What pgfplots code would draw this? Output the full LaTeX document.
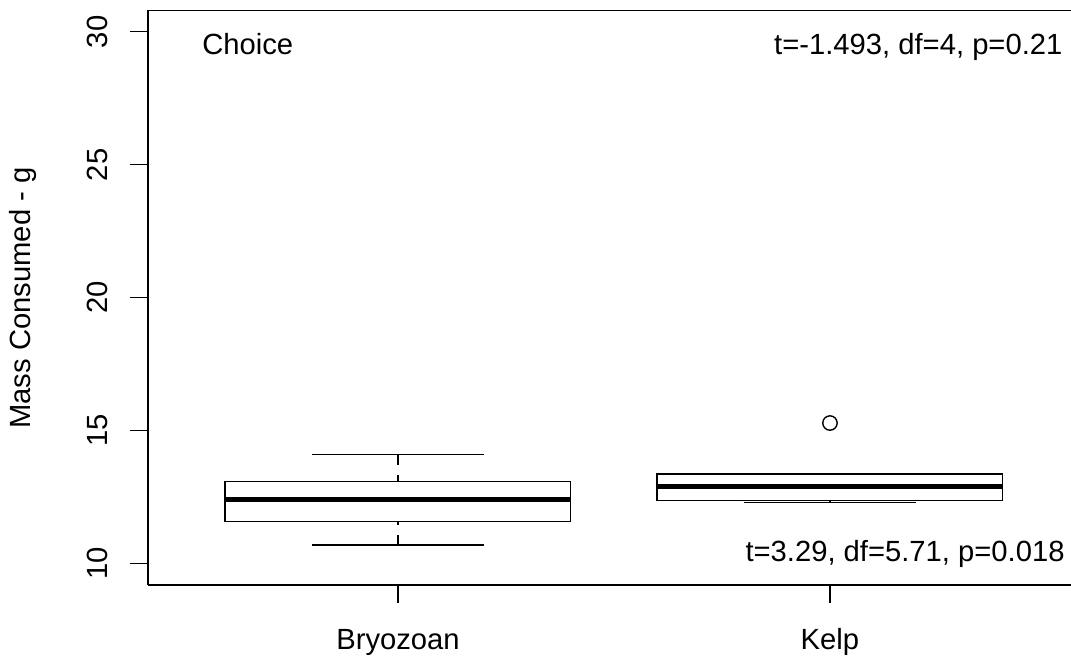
\documentclass[border=0pt]{standalone}
\usepackage{fontspec}
\setmainfont{Liberation Sans}
\usepackage{pgfplots}
\pgfplotsset{compat=1.18}
\begin{document}
\fontsize{14.6pt}{17pt}\selectfont
\begin{tikzpicture}
\useasboundingbox (0,0) rectangle (535.5pt,329pt);
\begin{axis}[
  at={(74pt,36.5pt)}, anchor=south west,
  scale only axis, width=461.5pt, height=287.25pt,
  xmin=0.4213, xmax=2.558, ymin=9.2, ymax=30.8,
  axis x line=box, axis y line=left,
  axis line style={-, line width=0.7pt, black},
  xtick={1,2}, xticklabels={Bryozoan,Kelp},
  ytick={10,15,20,25,30},
  xtick pos=bottom, ytick pos=left,
  tick align=outside, major tick length=9pt,
  every tick/.style={line width=0.7pt, black},
  /pgf/number format/assume math mode=true,
  tick label style={font=\fontsize{14.6pt}{17pt}\selectfont, inner sep=0pt},
  xticklabel style={anchor=base},
  yticklabel style={rotate=90, anchor=base},
  xticklabel shift=23pt,
  yticklabel shift=11pt,
]
% Bryozoan: lower whisker 10.71, Q1 11.59, median 12.41, Q3 13.09, upper whisker 14.10
\addplot[black, line width=0.7pt, dash pattern=on 5pt off 5pt] coordinates {(1,14.10) (1,13.09)};
\addplot[black, line width=0.7pt, dash pattern=on 5pt off 5pt] coordinates {(1,10.71) (1,11.59)};
\addplot[black, line width=0.7pt] coordinates {(0.8,14.10) (1.2,14.10)};
\addplot[black, line width=0.7pt] coordinates {(0.8,10.71) (1.2,10.71)};
\addplot[black, line width=0.7pt, fill=white] coordinates {(0.6,11.59) (1.4,11.59) (1.4,13.09) (0.6,13.09)} -- cycle;
\addplot[black, line width=2.3pt] coordinates {(0.6,12.41) (1.4,12.41)};
% Kelp: lower whisker 12.30, Q1 12.38, median 12.91, Q3 13.38, upper whisker 13.40, outlier 15.29
\addplot[black, line width=0.7pt, dash pattern=on 5pt off 5pt] coordinates {(2,13.40) (2,13.38)};
\addplot[black, line width=0.7pt, dash pattern=on 5pt off 5pt] coordinates {(2,12.30) (2,12.38)};
\addplot[black, line width=0.7pt] coordinates {(1.8,13.40) (2.2,13.40)};
\addplot[black, line width=0.7pt] coordinates {(1.8,12.30) (2.2,12.30)};
\addplot[black, line width=0.7pt, fill=white] coordinates {(1.6,12.38) (2.4,12.38) (2.4,13.38) (1.6,13.38)} -- cycle;
\addplot[black, line width=2.3pt] coordinates {(1.6,12.91) (2.4,12.91)};
\addplot[only marks, black, mark=o, mark size=3.6pt, mark options={solid, line width=0.7pt}] coordinates {(2,15.29)};
\node[anchor=base west, inner sep=0pt] at (axis cs:0.546,29.135) {Choice};
\node[anchor=base east, inner sep=0pt] at (axis cs:2.539,29.135) {t=-1.493, df=4, p=0.21};
\node[anchor=base east, inner sep=0pt] at (axis cs:2.544,10.09) {t=3.29, df=5.71, p=0.018};
\end{axis}
\node[rotate=90, anchor=base, inner sep=0pt] at (15.5pt,180pt) {Mass Consumed - g};
\end{tikzpicture}
\end{document}
